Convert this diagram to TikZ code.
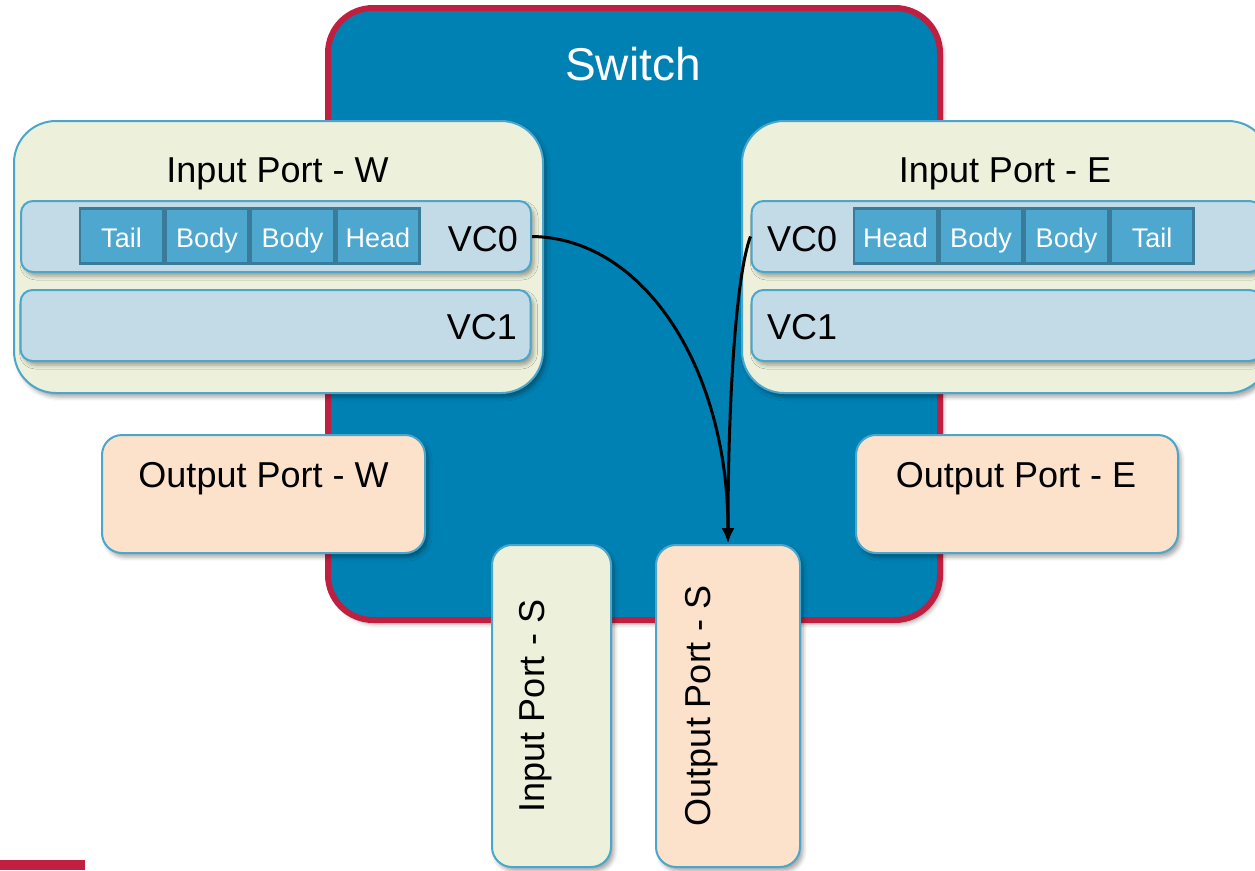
\documentclass[tikz,border=0pt]{standalone}
\usepackage{fontspec}
\setmainfont{Liberation Sans}
\usetikzlibrary{positioning,arrows.meta,shadows.blur}

\definecolor{switchblue}{RGB}{0,129,180}
\definecolor{switchred}{RGB}{192,31,64}
\definecolor{portcream}{RGB}{237,241,219}
\definecolor{portpeach}{RGB}{252,225,203}
\definecolor{portedge}{RGB}{75,166,204}
\definecolor{vcfill}{RGB}{195,218,231}
\definecolor{flitfill}{RGB}{78,167,207}
\definecolor{flitedge}{RGB}{58,123,153}

\begin{document}
\begin{tikzpicture}[x=1pt,y=-1pt]
	\tikzstyle{every node}=[inner sep=0pt, font=\fontsize{36}{40}\selectfont]
	\tikzstyle{soft}=[blur shadow={shadow xshift=3pt, shadow yshift=-4pt, shadow blur radius=4pt, shadow opacity=35}]
	\tikzstyle{portbox}=[draw=portedge, line width=2pt, soft]
	\tikzstyle{inport}=[portbox, fill=portcream, rounded corners=42pt]
	\tikzstyle{outport}=[portbox, fill=portpeach, rounded corners=20pt]
	\tikzstyle{vcrow}=[portbox, fill=vcfill, rounded corners=12pt, minimum width=510, minimum height=71]
	\tikzstyle{flit}=[draw=flitedge, line width=2.5pt, fill=flitfill, text=white,
		minimum width=83, minimum height=55, text height=24pt, text depth=2pt,
		font=\fontsize{27}{30}\selectfont]
	\tikzstyle{flow}=[line width=3pt, -{Latex[length=15pt,width=13pt]}]

	\clip (0,0) rectangle (1255,870);

	% switch
	\node[draw=switchred, line width=6pt, fill=switchblue, rounded corners=45pt,
		minimum width=612, minimum height=612, soft] (switch) at (634,314) {};
	\node[anchor=base, text=white, font=\fontsize{46}{50}\selectfont] (switchlbl) at (633,80) {Switch};

	% input ports W and E
	\node[inport, minimum width=529, minimum height=272] (inW) at (278.5,257) {};
	\node[inport, minimum width=528, minimum height=272] (inE) at (1006,257) {};
	\node[anchor=base] (inWlbl) at (277.5,182) {Input Port - W};
	\node[anchor=base] (inElbl) at (1005,182) {Input Port - E};

	% output ports W and E
	\node[outport, minimum width=323, minimum height=118] (outW) at (263.5,494) {};
	\node[outport, minimum width=322, minimum height=118] (outE) at (1017,494) {};
	\node[anchor=base] (outWlbl) at (263.5,487) {Output Port - W};
	\node[anchor=base] (outElbl) at (1016,487) {Output Port - E};

	% south ports
	\node[inport, rounded corners=20pt, minimum width=119, minimum height=322] (inS) at (551.5,706) {};
	\node[outport, minimum width=144, minimum height=322] (outS) at (728,706) {};
	\node[rotate=90, anchor=base] (inSlbl) at (544,706) {Input Port - S};
	\node[rotate=90, anchor=base] (outSlbl) at (710,706) {Output Port - S};

	% virtual channels
	\node[vcrow] (vcW0) at (276,236.5) {};
	\node[vcrow] (vcW1) at (275.5,325.5) {};
	\node[vcrow] (vcE0) at (1006.5,236.5) {};
	\node[vcrow] (vcE1) at (1006.5,325.5) {};
	\node[anchor=base east] (vcW0lbl) at (518,251) {VC0};
	\node[anchor=base east] (vcW1lbl) at (517,339) {VC1};
	\node[anchor=base west] (vcE0lbl) at (767,251) {VC0};
	\node[anchor=base west] (vcE1lbl) at (767,339) {VC1};

	% flits
	\node[flit] (fW1) at (121.5,236) {Tail};
	\node[flit, right=0pt of fW1] (fW2) {Body};
	\node[flit, right=0pt of fW2] (fW3) {Body};
	\node[flit, right=0pt of fW3] (fW4) {Head};
	\node[flit] (fE1) at (895.5,236) {Head};
	\node[flit, right=0pt of fE1] (fE2) {Body};
	\node[flit, right=0pt of fE2] (fE3) {Body};
	\node[flit, right=0pt of fE3] (fE4) {Tail};

	% routes to output S
	\coordinate (dst) at (728,543);
	\draw[flow] (vcW0.east) .. controls (645,238) and (728,370) .. (dst);
	\draw[flow] (vcE0.west) .. controls (736,275) and (728,400) .. (dst);

	\fill[switchred] (0,860) rectangle (85,870);
\end{tikzpicture}
\end{document}
